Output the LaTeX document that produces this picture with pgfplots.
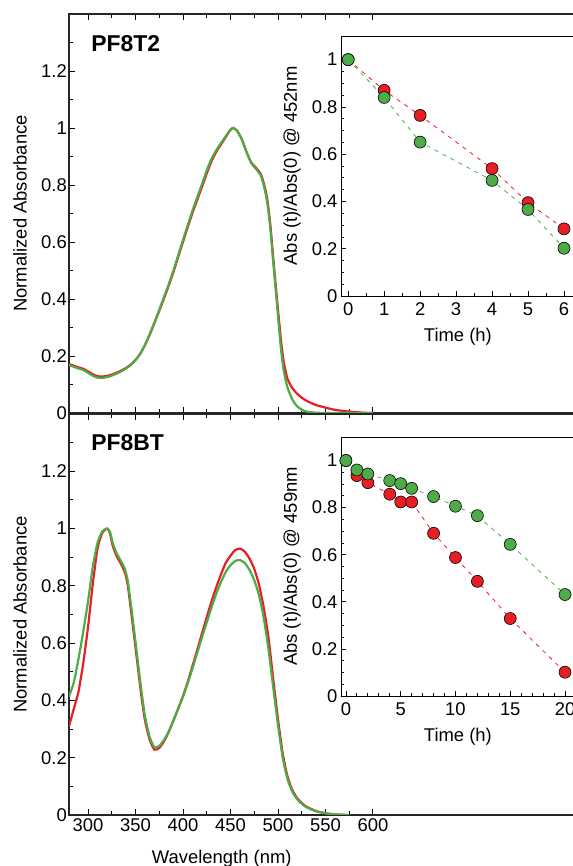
\documentclass[border=0pt]{standalone}
\usepackage{fontspec}
\setmainfont{Liberation Sans}
\usepackage{pgfplots}
\pgfplotsset{compat=1.18}

\definecolor{cred}{RGB}{232,30,36}
\definecolor{cgreen}{RGB}{78,172,72}

\pgfplotstableread{
nm    red    green
280   0.172  0.168
285   0.166  0.162
290   0.160  0.156
295   0.155  0.151
300   0.146  0.141
305   0.136  0.131
310   0.129  0.124
315   0.128  0.123
320   0.130  0.126
325   0.135  0.131
330   0.141  0.138
335   0.149  0.146
340   0.158  0.156
345   0.170  0.168
350   0.186  0.185
355   0.208  0.208
360   0.238  0.239
365   0.275  0.277
370   0.316  0.319
375   0.358  0.362
380   0.402  0.407
385   0.447  0.452
390   0.495  0.501
395   0.548  0.554
400   0.600  0.607
405   0.652  0.659
410   0.702  0.710
415   0.748  0.757
420   0.793  0.803
425   0.840  0.851
430   0.883  0.892
435   0.916  0.922
440   0.942  0.947
445   0.968  0.971
450   0.993  0.995
453   1.000  1.000
457   0.990  0.990
462   0.960  0.960
467   0.915  0.915
472   0.878  0.876
477   0.860  0.856
482   0.838  0.832
486   0.795  0.785
489   0.745  0.732
492   0.660  0.645
495   0.545  0.530
499   0.400  0.380
503   0.260  0.230
506   0.180  0.150
510   0.120  0.090
515   0.088  0.048
520   0.068  0.024
525   0.054  0.012
530   0.043  0.005
540   0.028  0.001
550   0.019  0.0
560   0.011  0.0
575   0.005  0.0
590   0.001  0.0
600   0.0    0.0
}\tabtop

\pgfplotstableread{
nm    red    green
280   0.310  0.414
285   0.370  0.462
290   0.430  0.545
295   0.530  0.640
300   0.655  0.745
305   0.805  0.865
310   0.930  0.950
315   0.985  0.990
320   1.000  1.000
323   0.985  0.990
326   0.940  0.950
330   0.905  0.915
335   0.875  0.885
339   0.845  0.858
342   0.800  0.815
345   0.720  0.740
348   0.640  0.660
352   0.530  0.550
356   0.420  0.440
360   0.330  0.345
365   0.262  0.272
370   0.228  0.236
375   0.234  0.241
380   0.257  0.262
385   0.290  0.292
390   0.330  0.330
395   0.372  0.372
400   0.415  0.413
405   0.465  0.460
410   0.520  0.512
415   0.576  0.566
420   0.634  0.620
425   0.690  0.672
430   0.745  0.724
435   0.795  0.772
440   0.840  0.813
445   0.880  0.848
450   0.905  0.872
455   0.925  0.887
460   0.930  0.890
465   0.920  0.880
470   0.895  0.856
475   0.860  0.820
480   0.805  0.768
485   0.725  0.688
490   0.620  0.580
495   0.475  0.445
500   0.335  0.315
505   0.215  0.200
510   0.135  0.126
515   0.088  0.082
520   0.060  0.056
525   0.042  0.039
530   0.029  0.027
540   0.014  0.013
550   0.006  0.006
560   0.002  0.002
575   0.0    0.0
}\tabbot

\pgfplotstableread{
t   red    green
0   1.000  1.000
1   0.870  0.840
2   0.764  0.651
4   0.539  0.489
5   0.395  0.366
6   0.284  0.202
}\instop

\pgfplotstableread{
t   red    green
0   1.000  1.000
1   0.936  0.960
2   0.906  0.943
4   0.857  0.915
5   0.824  0.902
6   0.824  0.882
8   0.691  0.847
10  0.588  0.806
12  0.487  0.766
15  0.329  0.644
20  0.101  0.431
}\insbot

\tikzset{lab/.style={font=\fontsize{18.5}{21}\selectfont}}

\pgfplotsset{
  mainax/.style={
    scale only axis, width=511bp,
    xmin=280, xmax=818, ymin=0, ymax=1.4,
    xtick={300,350,400,450,500,550,600},
    minor xtick={325,375,425,475,525,575},
    ytick={0,0.2,0.4,0.6,0.8,1,1.2},
    minor ytick={0.1,0.3,0.5,0.7,0.9,1.1,1.3},
    ytick pos=left,
    tick align=inside,
    major tick length=6bp, minor tick length=4bp,
    axis line style={line width=1.4bp, black!85},
    tick style={line width=0.9bp, black},
    ticklabel style={lab},
    yticklabel style={inner xsep=2bp},
    /pgf/number format/assume math mode=true,
    ylabel={Normalized Absorbance},
    ylabel style={lab, at={(axis description cs:-0.0959,0.5)}, anchor=center},
  },
  insax/.style={
    scale only axis, width=241bp,
    ymin=0, ymax=1.1,
    ytick={0,0.2,0.4,0.6,0.8,1},
    minor y tick num=3,
    xtick pos=bottom, ytick pos=left,
    tick align=inside,
    major tick length=5bp, minor tick length=3bp,
    axis line style={line width=0.9bp, black},
    tick style={line width=0.8bp, black},
    ticklabel style={lab},
    xticklabel style={yshift=-3bp},
    /pgf/number format/assume math mode=true,
    xlabel={Time (h)},
    xlabel style={lab, at={(axis description cs:0.485,-0.158)}, anchor=center},
    ylabel style={lab, at={(axis description cs:-0.203,0.5)}, anchor=center},
  },
  spec/.style={line width=2.2bp, smooth, tension=0.35},
  fit/.style={line width=0.8bp, dash pattern=on 4bp off 5bp},
  dots/.style={only marks, mark=*, mark size=6bp,
    mark options={draw=black, line width=0.6bp}},
}

\begin{document}
\begin{tikzpicture}
\path[use as bounding box] (0,0) rectangle (573bp,866bp);

% top panel: PF8T2
\begin{axis}[mainax, at={(69bp,453bp)}, anchor=south west, height=399bp,
  xticklabels={}]
\addplot[spec, cred] table[x=nm, y=red] {\tabtop};
\addplot[spec, cgreen] table[x=nm, y=green] {\tabtop};
\node[anchor=west, font=\fontsize{23}{26}\selectfont\bfseries]
  at (axis description cs:0.037,0.927) {PF8T2};
\end{axis}

% bottom panel: PF8BT
\begin{axis}[mainax, at={(69bp,51bp)}, anchor=south west, height=401bp,
  xlabel={Wavelength (nm)},
  xlabel style={lab, at={(axis description cs:0.299,-0.11)}, anchor=center}]
\addplot[spec, cred] table[x=nm, y=red] {\tabbot};
\addplot[spec, cgreen] table[x=nm, y=green] {\tabbot};
\node[anchor=west, font=\fontsize{23}{26}\selectfont\bfseries]
  at (axis description cs:0.037,0.928) {PF8BT};
\end{axis}

% top inset
\begin{axis}[insax, at={(341bp,570bp)}, anchor=south west, height=260bp,
  xmin=-0.2, xmax=6.5, xtick={0,1,2,3,4,5,6}, minor x tick num=1,
  ylabel={Abs (t)/Abs(0) @ 452nm}]
\addplot[fit, cred] table[x=t, y=red] {\instop};
\addplot[fit, cgreen] table[x=t, y=green] {\instop};
\addplot[dots, fill=cred] table[x=t, y=red] {\instop};
\addplot[dots, fill=cgreen] table[x=t, y=green] {\instop};
\end{axis}

% bottom inset
\begin{axis}[insax, at={(341bp,170bp)}, anchor=south west, height=259bp,
  xmin=-0.45, xmax=21.55, xtick={0,5,10,15,20}, minor x tick num=4,
  ylabel={Abs (t)/Abs(0) @ 459nm}]
\addplot[fit, cred] table[x=t, y=red] {\insbot};
\addplot[fit, cgreen] table[x=t, y=green] {\insbot};
\addplot[dots, fill=cred] table[x=t, y=red] {\insbot};
\addplot[dots, fill=cgreen] table[x=t, y=green] {\insbot};
\end{axis}
\end{tikzpicture}
\end{document}
